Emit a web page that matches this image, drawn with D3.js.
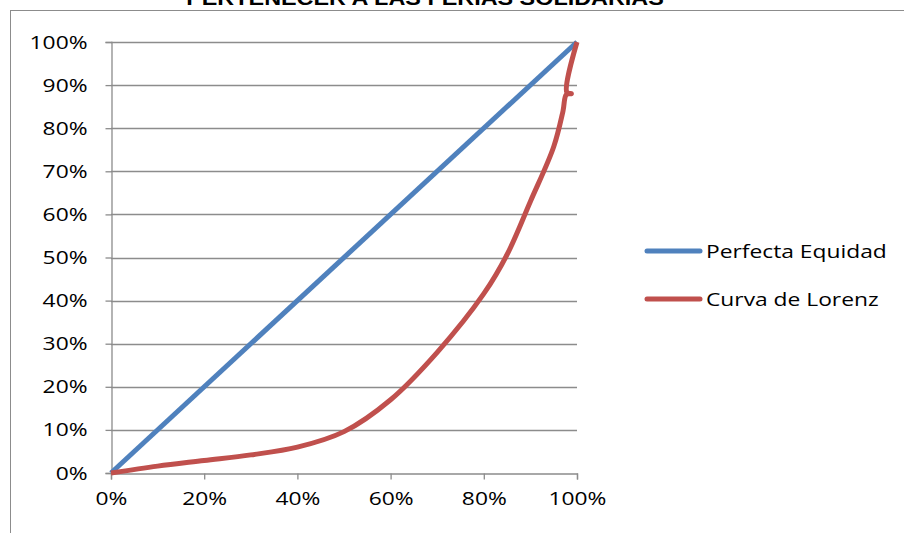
<!DOCTYPE html>
<html>
<head>
<meta charset="utf-8">
<script src="https://cdn.jsdelivr.net/npm/d3@7"></script>
<style>
  body { margin: 0; background: #fff; }
  text { font-family: "Open Sans", sans-serif; fill: #000; }
</style>
</head>
<body>
<svg id="chart" width="904" height="533"></svg>
<script>
// chart data
var title = 'PERTENECER A LAS FERIAS SOLIDARIAS';
var seriesNames = ['Perfecta Equidad', 'Curva de Lorenz'];
var equidadX = [0, 1];
var equidadY = [0, 1];
var lorenzX = [0, 0.1, 0.2, 0.3, 0.4, 0.5, 0.6, 0.7, 0.8, 0.85, 0.9, 0.95, 0.97, 0.977, 0.988, 0.978, 1];
var lorenzY = [0, 0.016, 0.029, 0.042, 0.06, 0.096, 0.17, 0.28, 0.416, 0.507, 0.63, 0.757, 0.84, 0.878, 0.88, 0.884, 1];
var xTicks = [0, 0.2, 0.4, 0.6, 0.8, 1];
var yTicks = [0, 0.1, 0.2, 0.3, 0.4, 0.5, 0.6, 0.7, 0.8, 0.9, 1];
var colors = ['#4F81BD', '#C0504D'];

var STRETCH = 1.2; // the reference text is a bit wider than the fonts we have

var svg = d3.select('#chart');

// outer frame of the chart area (clipped by the window on the right/bottom)
svg.append('rect')
    .attr('x', 10.5).attr('y', 10.5)
    .attr('width', 1000).attr('height', 1000)
    .attr('fill', 'none')
    .attr('stroke', '#8c8c8c')
    .attr('stroke-width', 1);

svg.append('text')
    .attr('transform', 'translate(425,5) scale(1.17,1)')
    .attr('text-anchor', 'middle')
    .style('font-family', '"Liberation Sans", Arial, sans-serif')
    .style('font-weight', 'bold')
    .style('font-size', '20px')
    .text(title);

var x = d3.scaleLinear().domain([0, 1]).range([111, 577]),
    y = d3.scaleLinear().domain([0, 1]).range([473, 42]),
    pct = d3.format('.0%');

// horizontal gridlines
svg.append('g').selectAll('line').data(yTicks.slice(1))
    .enter().append('line')
    .attr('x1', x(0)).attr('x2', x(1))
    .attr('y1', function (d) { return Math.round(y(d)) + 0.5; })
    .attr('y2', function (d) { return Math.round(y(d)) + 0.5; })
    .attr('stroke', '#8c8c8c')
    .attr('stroke-width', 1.3);

var yAxis = svg.append('g')
    .attr('transform', 'translate(' + (x(0) + 0.5) + ',0)')
    .call(d3.axisLeft(y).tickValues(yTicks).tickFormat(pct).tickSize(6));

var xAxis = svg.append('g')
    .attr('transform', 'translate(0,' + (Math.round(y(0)) + 0.5) + ')')
    .call(d3.axisBottom(x).tickValues(xTicks).tickFormat(pct).tickSize(6).tickPadding(12));

[yAxis, xAxis].forEach(function (ax) {
    ax.select('.domain').attr('stroke', '#8c8c8c').attr('stroke-width', 1.3);
    ax.selectAll('.tick line').attr('stroke', '#8c8c8c').attr('stroke-width', 1.3);
    ax.selectAll('.tick text')
        .style('font-family', '"Open Sans", sans-serif')
        .style('font-size', '19px')
        .attr('fill', '#000');
});

yAxis.selectAll('.tick text')
    .attr('x', 0)
    .attr('transform', 'translate(-24,0) scale(' + STRETCH + ',1)');
xAxis.selectAll('.tick text')
    .attr('transform', 'scale(' + STRETCH + ',1)');

// series lines
var straight = d3.line()
    .x(function (d) { return x(d[0]); })
    .y(function (d) { return y(d[1]); });

var smooth = d3.line()
    .x(function (d) { return x(d[0]); })
    .y(function (d) { return y(d[1]); })
    .curve(d3.curveCatmullRom.alpha(0.5));

svg.append('path')
    .datum(d3.zip(equidadX, equidadY))
    .attr('d', straight)
    .attr('fill', 'none')
    .attr('stroke', colors[0])
    .attr('stroke-width', 5);

svg.append('path')
    .datum(d3.zip(lorenzX, lorenzY))
    .attr('d', smooth)
    .attr('fill', 'none')
    .attr('stroke', colors[1])
    .attr('stroke-width', 5)
    .attr('stroke-linejoin', 'round');

// legend
var legend = svg.append('g').selectAll('g').data(seriesNames)
    .enter().append('g')
    .attr('transform', function (d, i) { return 'translate(647,' + (251 + i * 48) + ')'; });

legend.append('line')
    .attr('x1', 0).attr('x2', 53)
    .attr('stroke', function (d, i) { return colors[i]; })
    .attr('stroke-width', 5)
    .attr('stroke-linecap', 'round');

legend.append('text')
    .attr('transform', 'translate(59,7) scale(' + STRETCH + ',1)')
    .style('font-size', '19px')
    .text(function (d) { return d; });
</script>
</body>
</html>
